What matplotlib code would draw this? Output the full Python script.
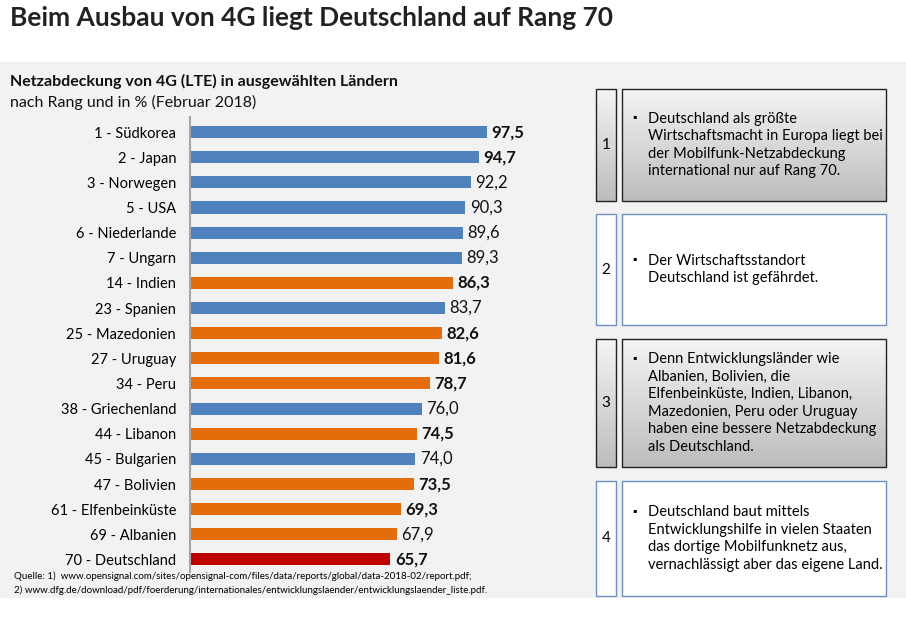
import matplotlib
matplotlib.use('Agg')
import matplotlib.pyplot as plt
import numpy as np
from matplotlib.patches import Rectangle
from matplotlib.colors import LinearSegmentedColormap

plt.rcParams['font.family'] = ['Lato', 'DejaVu Sans']

labels = ['1 - Südkorea', '2 - Japan', '3 - Norwegen', '5 - USA', '6 - Niederlande',
          '7 - Ungarn', '14 - Indien', '23 - Spanien', '25 - Mazedonien', '27 - Uruguay',
          '34 - Peru', '38 - Griechenland', '44 - Libanon', '45 - Bulgarien', '47 - Bolivien',
          '61 - Elfenbeinküste', '69 - Albanien', '70 - Deutschland']
values = [97.5, 94.7, 92.2, 90.3, 89.6, 89.3, 86.3, 83.7, 82.6, 81.6, 78.7, 76.0,
          74.5, 74.0, 73.5, 69.3, 67.9, 65.7]
groups = ['top', 'top', 'eu', 'eu', 'eu', 'eu', 'dev', 'eu', 'dev', 'dev', 'dev', 'eu',
          'dev', 'eu', 'dev', 'dev', 'dev_plain', 'de']
box_texts = [
    'Deutschland als größte\nWirtschaftsmacht in Europa liegt bei\nder Mobilfunk-Netzabdeckung\ninternational nur auf Rang 70.',
    'Der Wirtschaftsstandort\nDeutschland ist gefährdet.',
    'Denn Entwicklungsländer wie\nAlbanien, Bolivien, die\nElfenbeinküste, Indien, Libanon,\nMazedonien, Peru oder Uruguay\nhaben eine bessere Netzabdeckung\nals Deutschland.',
    'Deutschland baut mittels\nEntwicklungshilfe in vielen Staaten\ndas dortige Mobilfunknetz aus,\nvernachlässigt aber das eigene Land.',
]

colors = {'top': '#4f81bd', 'eu': '#4f81bd', 'dev': '#e46c0a', 'dev_plain': '#e46c0a', 'de': '#c00000'}
bold = {'top': True, 'eu': False, 'dev': True, 'dev_plain': False, 'de': True}

fig = plt.figure(figsize=(9.06, 6.18), dpi=100)
fig.patch.set_facecolor('white')

# background layer in pixel coordinates
bg = fig.add_axes([0, 0, 1, 1])
bg.set_axis_off()
bg.add_patch(Rectangle((0, 62), 906, 536, facecolor='#f2f2f2', edgecolor='none'))
bg.text(10, 18, 'Beim Ausbau von 4G liegt Deutschland auf Rang 70', fontsize=19,
        fontweight='bold', va='center', color='#222222')
bg.text(10, 81, 'Netzabdeckung von 4G (LTE) in ausgewählten Ländern', fontsize=11.5,
        fontweight='bold', va='center', color='#111111')
bg.text(10, 102, 'nach Rang und in % (Februar 2018)', fontsize=11.5, va='center', color='#111111')
bg.text(14, 576, 'Quelle: 1)  www.opensignal.com/sites/opensignal-com/files/data/reports/global/data-2018-02/report.pdf;',
        fontsize=7, va='center')
bg.text(14, 590, '2) www.dfg.de/download/pdf/foerderung/internationales/entwicklungslaender/entwicklungslaender_liste.pdf.',
        fontsize=7, va='center')

# text boxes on the right
boxes_y = [(89, 201), (214, 325), (339, 467), (481, 596)]
grad = np.linspace(0, 1, 100).reshape(-1, 1)
gcmap = LinearSegmentedColormap.from_list('g', ['#f4f4f4', '#bdbdbd'])
line_h = 17.5
for i, ((y0, y1), txt) in enumerate(zip(boxes_y, box_texts)):
    grey = i % 2 == 0
    ec = '#222222' if grey else '#6f8fc4'
    for x0, x1 in [(596, 616), (622, 886)]:
        if grey:
            bg.imshow(grad, extent=(x0, x1, y1, y0), cmap=gcmap, aspect='auto', zorder=1)
            bg.add_patch(Rectangle((x0, y0), x1 - x0, y1 - y0, facecolor='none', edgecolor=ec, lw=1, zorder=2))
        else:
            bg.add_patch(Rectangle((x0, y0), x1 - x0, y1 - y0, facecolor='white', edgecolor=ec, lw=1, zorder=2))
    ym = (y0 + y1) / 2
    bg.text(606, ym, str(i + 1), fontsize=11, ha='center', va='center', zorder=3)
    lines = txt.split('\n')
    first = ym - (len(lines) - 1) * line_h / 2
    bg.text(634, first - 2, '\u25aa', fontsize=8, ha='center', va='center', zorder=3)
    for k, ln in enumerate(lines):
        bg.text(648, first + k * line_h, ln, fontsize=10.5, va='center', zorder=3)
bg.set_xlim(0, 906)
bg.set_ylim(618, 0)

# bar chart
ax = fig.add_axes([190 / 906, 1 - 572 / 618, 390 / 906, 455 / 618])
ax.set_facecolor('none')
y = np.arange(len(values))
ax.barh(y, values, height=0.48, color=[colors[g] for g in groups])
for yi, v, g in zip(y, values, groups):
    ax.text(v + 1.5, yi, f'{v:.1f}'.replace('.', ','), va='center', ha='left', fontsize=12,
            fontweight='bold' if bold[g] else 'normal', color='#111111')
ax.set_yticks(y)
ax.set_yticklabels(labels, fontsize=10.5)
ax.tick_params(axis='y', length=0, pad=10)
ax.set_ylim(len(values) - 0.5, -0.6)
ax.set_xlim(0, 128)
ax.set_xticks([])
for s in ['top', 'right', 'bottom']:
    ax.spines[s].set_visible(False)
ax.spines['left'].set_color('#a6a6a6')
ax.spines['left'].set_linewidth(1.5)

fig.savefig('out.png', dpi=100)
